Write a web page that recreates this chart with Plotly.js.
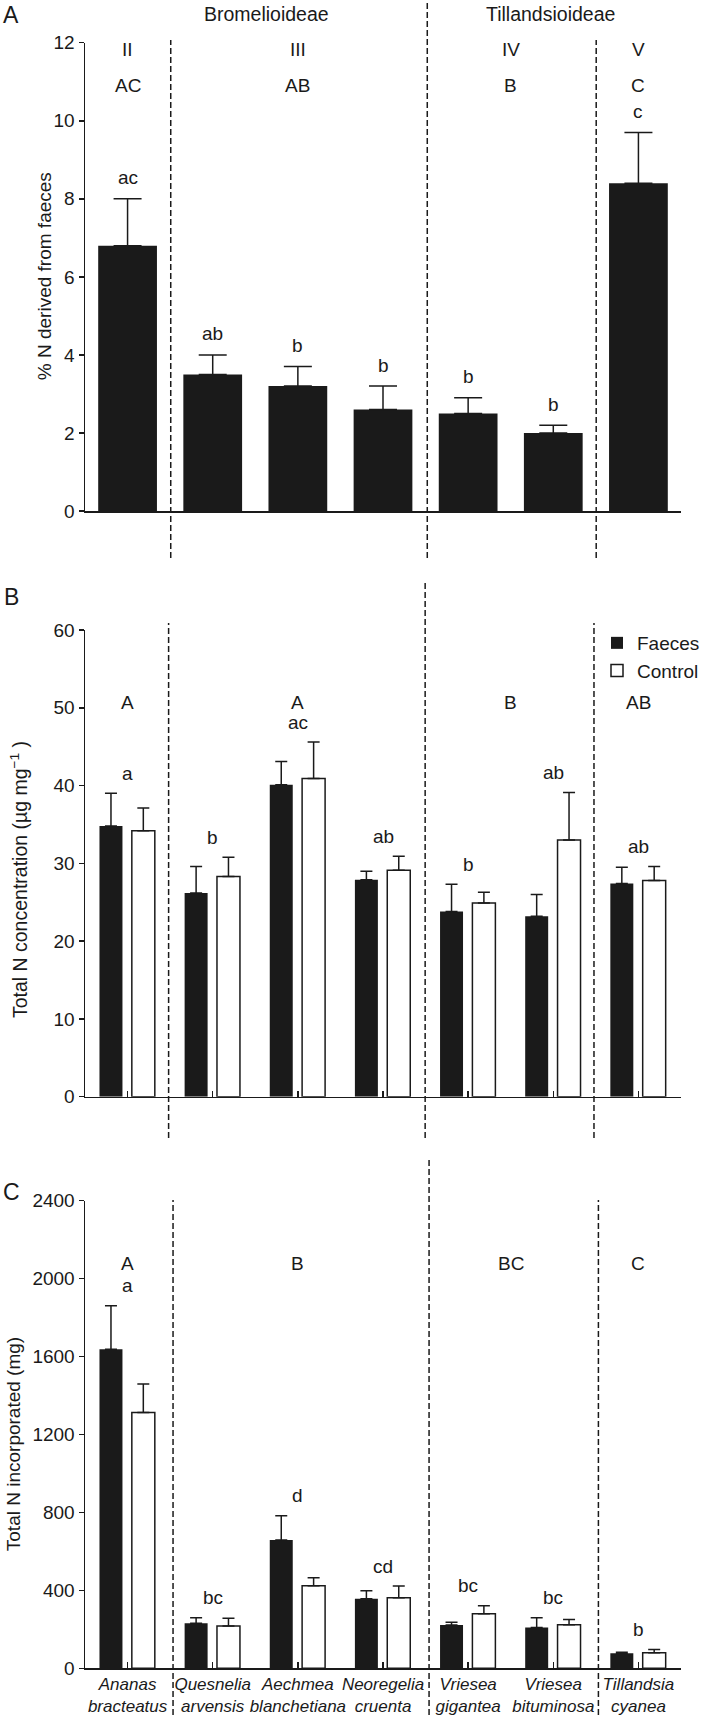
<!DOCTYPE html>
<html><head><meta charset="utf-8">
<script src="https://cdn.plot.ly/plotly-3.0.1.min.js"></script>
<style>html,body{margin:0;padding:0;background:#fff}#chart{width:705px;height:1715px}</style>
</head><body><div id="chart"></div>
<script>
// ---------------- data ----------------
const species = ['Ananas bracteatus', 'Quesnelia arvensis', 'Aechmea blanchetiana', 'Neoregelia cruenta',
                 'Vriesea gigantea', 'Vriesea bituminosa', 'Tillandsia cyanea'];
const subfamilies = ['Bromelioideae', 'Tillandsioideae'];
const romanGroups = ['II', 'III', 'IV', 'V'];
const yTitles = ['% N derived from faeces', 'Total N concentration (µg mg<sup>−1</sup> )', 'Total N incorporated (mg)'];

// Panel A: % N derived from faeces
const pctN = [6.8, 3.5, 3.2, 2.6, 2.5, 2.0, 8.4];
const pctNse = [1.2, 0.5, 0.5, 0.6, 0.4, 0.2, 1.3];
const lettersA = ['ac', 'ab', 'b', 'b', 'b', 'b', 'c'];
const groupLettersA = ['AC', 'AB', 'B', 'C'];

// Panel B: total N concentration (µg mg-1)
const concFaeces = [34.8, 26.2, 40.1, 27.9, 23.8, 23.2, 27.4];
const concFaecesSe = [4.2, 3.4, 3.0, 1.1, 3.5, 2.8, 2.1];
const concControl = [34.2, 28.3, 40.9, 29.1, 24.9, 33.0, 27.8];
const concControlSe = [2.9, 2.5, 4.7, 1.8, 1.4, 6.1, 1.8];
const lettersB = ['a', 'b', 'ac', 'ab', 'b', 'ab', 'ab'];
const groupLettersB = ['A', 'A', 'B', 'AB'];

// Panel C: total N incorporated (mg)
const incFaeces = [1637, 231, 658, 357, 222, 210, 77];
const incFaecesSe = [224, 29, 125, 41, 14, 50, 5];
const incControl = [1313, 217, 424, 362, 280, 224, 80];
const incControlSe = [146, 40, 41, 60, 41, 27, 17];
const lettersC = ['a', 'bc', 'd', 'cd', 'bc', 'bc', 'b'];
const groupLettersC = ['A', 'B', 'BC', 'C'];

// ---------------- layout helpers ----------------
const W = 705, H = 1715, L = 85, R = 14;
const PW = W - L - R;
const px = p => (p - L) / PW;
const py = p => 1 - p / H;
const FONT = 'Liberation Sans, Arial, Helvetica, sans-serif';
const INK = '#1a1a1a';
const FS = 19;
const groupPos = [0, 2, 4.5, 6];

const panels = {
  A: {top: 42.7, bot: 511},
  B: {top: 630, bot: 1096.7},
  C: {top: 1200.7, bot: 1668.3}
};
const dom = k => [py(panels[k].bot), py(panels[k].top)];

const oneSided = se => ({type: 'data', symmetric: false, array: se, arrayminus: se.map(() => 0),
                         color: INK, thickness: 1.5});

const traces = [
  {type: 'bar', x: species, y: pctN, name: 'Faeces', xaxis: 'x', yaxis: 'y', showlegend: false,
   width: 0.69, marker: {color: INK, line: {width: 0}},
   error_y: Object.assign(oneSided(pctNse), {width: 14})},
  {type: 'bar', x: species, y: concFaeces, name: 'Faeces', xaxis: 'x2', yaxis: 'y2', legendgroup: 'f',
   width: 0.27, offset: -0.33, marker: {color: INK, line: {width: 0}},
   error_y: Object.assign(oneSided(concFaecesSe), {width: 6})},
  {type: 'bar', x: species, y: concControl, name: 'Control', xaxis: 'x2', yaxis: 'y2', legendgroup: 'c',
   width: 0.27, offset: 0.05, marker: {color: '#ffffff', line: {color: INK, width: 1.5}},
   error_y: Object.assign(oneSided(concControlSe), {width: 6})},
  {type: 'bar', x: species, y: incFaeces, name: 'Faeces', xaxis: 'x3', yaxis: 'y3', showlegend: false,
   width: 0.27, offset: -0.33, marker: {color: INK, line: {width: 0}},
   error_y: Object.assign(oneSided(incFaecesSe), {width: 6})},
  {type: 'bar', x: species, y: incControl, name: 'Control', xaxis: 'x3', yaxis: 'y3', showlegend: false,
   width: 0.27, offset: 0.05, marker: {color: '#ffffff', line: {color: INK, width: 1.5}},
   error_y: Object.assign(oneSided(incControlSe), {width: 6})}
];

const tickFont = {family: FONT, size: FS, color: INK};
const xBase = (anchor, showTicks, showLabels) => ({
  type: 'category', anchor: anchor, domain: [0, 1], range: [-0.5, 6.5], fixedrange: true,
  showline: true, linecolor: INK, linewidth: 1.5, showgrid: false, zeroline: false,
  ticks: showTicks ? 'inside' : '', ticklen: 6, tickwidth: 1.5, tickcolor: INK,
  showticklabels: showLabels, tickangle: 0, tickfont: {family: FONT, size: 17, color: INK},
  tickmode: 'array', tickvals: species,
  ticktext: species.map(s => s.split(' ').map(w => '<i>' + w + '</i>').join('<br>'))
});
const yBase = (anchor, k, range, dtick) => ({
  anchor: anchor, domain: dom(k), range: range, dtick: dtick, tick0: 0, fixedrange: true,
  showline: true, linecolor: INK, linewidth: 1.5, showgrid: false, zeroline: false,
  ticks: 'outside', ticklen: 5, tickwidth: 1.5, tickcolor: INK, tickfont: tickFont
});

const layout = {
  width: W, height: H, margin: {l: L, r: R, t: 0, b: 0, pad: 0},
  paper_bgcolor: '#fff', plot_bgcolor: 'rgba(0,0,0,0)',
  font: {family: FONT, color: INK, size: FS},
  barmode: 'group', showlegend: true,
  legend: {x: px(606), xanchor: 'left', y: py(624), yanchor: 'top', bgcolor: 'rgba(0,0,0,0)',
           font: {family: FONT, size: FS, color: INK}, traceorder: 'normal', borderwidth: 0},
  xaxis: xBase('y', false, false),
  xaxis2: xBase('y2', true, false),
  xaxis3: xBase('y3', true, true),
  yaxis: yBase('x', 'A', [0, 12], 2),
  yaxis2: yBase('x2', 'B', [0, 60], 10),
  yaxis3: yBase('x3', 'C', [0, 2400], 400),
  shapes: [], annotations: []
};

// separators between groups
const seps = [
  {xref: 'x', pos: [0.507, 3.52, 5.504], tops: [40, 0, 40], bot: 558},
  {xref: 'x2', pos: [0.482, 3.495, 5.478], tops: [623, 582, 623], bot: 1138},
  {xref: 'x3', pos: [0.534, 3.541, 5.53], tops: [1200, 1159, 1200], bot: 1715}
];
seps.forEach(s => s.pos.forEach((p, i) => layout.shapes.push({
  type: 'line', xref: s.xref, yref: 'paper', x0: p, x1: p, y0: py(s.bot), y1: py(s.tops[i]),
  line: {color: INK, width: 1.5, dash: '6px,3px'}, layer: 'above'
})));

const ann = (o) => layout.annotations.push(Object.assign({showarrow: false,
  font: {family: FONT, size: FS, color: INK}, xanchor: 'center', yanchor: 'middle'}, o));

// y-axis titles (rotated)
[[43.5, 276, 19], [18, 880, 19.5], [12, 1444, 19]].forEach(([x, y, fs], i) =>
  ann({text: yTitles[i], xref: 'paper', yref: 'paper', x: px(x), y: py(y), textangle: -90,
       font: {family: FONT, size: fs, color: INK}}));

// panel labels
[['A', 15], ['B', 597], ['C', 1192]].forEach(([t, y]) =>
  ann({text: t, xref: 'paper', yref: 'paper', x: px(10), y: py(y), font: {family: FONT, size: 23, color: INK}}));

// subfamily headers
ann({text: subfamilies[0], xref: 'paper', yref: 'paper', x: px(270), y: py(14), font: {family: FONT, size: 19.5, color: INK}});
ann({text: subfamilies[1], xref: 'paper', yref: 'paper', x: px(558), y: py(14), font: {family: FONT, size: 19.5, color: INK}});

// group labels
romanGroups.forEach((t, i) => ann({text: t, xref: 'x', yref: 'paper', x: groupPos[i], y: py(50)}));
groupLettersA.forEach((t, i) => ann({text: t, xref: 'x', yref: 'paper', x: groupPos[i], y: py(85)}));
groupLettersB.forEach((t, i) => ann({text: t, xref: 'x2', yref: 'paper', x: groupPos[i], y: py(703)}));
groupLettersC.forEach((t, i) => ann({text: t, xref: 'x3', yref: 'paper', x: groupPos[i], y: py(1263)}));

// significance letters above error bars
lettersA.forEach((t, i) => ann({text: t, xref: 'x', yref: 'y', x: i, y: pctN[i] + pctNse[i], yshift: 21}));
lettersB.forEach((t, i) => ann({text: t, xref: 'x2', yref: 'y2', x: i,
  y: Math.max(concFaeces[i] + concFaecesSe[i], concControl[i] + concControlSe[i]), yshift: 20}));
lettersC.forEach((t, i) => ann({text: t, xref: 'x3', yref: 'y3', x: i,
  y: Math.max(incFaeces[i] + incFaecesSe[i], incControl[i] + incControlSe[i]), yshift: 20}));

Plotly.newPlot('chart', traces, layout, {staticPlot: true, displayModeBar: false});
</script>
</body></html>
